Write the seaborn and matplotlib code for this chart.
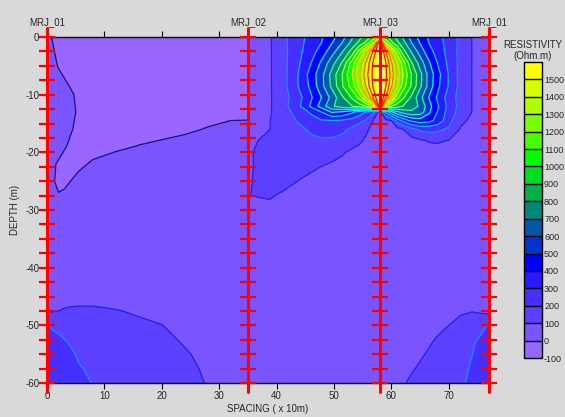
import numpy as np
import matplotlib
matplotlib.use("Agg")
import matplotlib.pyplot as plt
import matplotlib.transforms as mtransforms
from matplotlib.colors import ListedColormap
import seaborn as sns

sns.set_theme(style="ticks")
plt.rcParams["font.family"] = ["Liberation Sans", "DejaVu Sans"]
plt.rcParams["axes.unicode_minus"] = False

# boreholes along the section
borehole_names = ["MRJ_01", "MRJ_02", "MRJ_03", "MRJ_01"]
borehole_x = [0, 35, 58, 77]
electrode_depth = np.arange(0, 60.1, 2.5)

# resistivity classes (Ohm.m)
levels = np.arange(-100, 1501, 100)
fill_colors = ["#9966ff", "#7a55ff", "#5c40ff", "#4530ff", "#2a1aff", "#0000ff",
               "#0033cc", "#0058a8", "#00897a", "#00b048", "#00dd22", "#00ff00",
               "#44ff00", "#77ff00", "#aaff00", "#d8ff00"]
over_color = "#ffff00"
line_levels = np.arange(0, 1701, 100)
line_colors = ["#15157a", "#2222dd", "#1e8fff", "#00bfff", "#00dfff", "#00ffff",
               "#00ffd0", "#30ffa0", "#70ff70", "#a0ff40", "#d0ff20", "#ffff00",
               "#ffd200", "#ffa000", "#ff6400", "#ff2000", "#ff0000", "#ffffff"]

# panel MRJ_01 - MRJ_02
p1_x = [0, 1, 2, 3, 4, 5.5, 8, 12, 16, 20, 24, 28, 32, 35]
p1_depth = [0, 5, 10, 13, 16, 19, 22, 25, 27.5, 30, 40, 45, 47.5, 50, 52.5, 55, 57.5, 60]
p1_rho = [
    [20, -5, -30, -50, -50, -50, -50, -50, -50, -50, -50, -50, -50, -50],
    [45, 20, -5, -30, -50, -50, -50, -50, -50, -50, -50, -50, -50, -50],
    [50, 50, 50, 42, 17, -20, -50, -50, -50, -50, -50, -50, -50, -50],
    [50, 50, 50, 50, 25, -12, -50, -50, -50, -50, -50, -50, -37, -35],
    [50, 50, 50, 38, 12, -25, -50, -50, -50, -45, -22, 8, 38, 40],
    [50, 50, 35, 10, -15, -50, -50, -20, 5, 30, 50, 50, 50, 50],
    [45, 14, -11, -36, -50, -27, 17, 50, 50, 50, 50, 50, 50, 50],
    [32, 8, -17, -27, -2, 35, 50, 50, 50, 50, 50, 50, 50, 50],
    [45, 25, 5, 22, 37, 50, 50, 50, 50, 50, 50, 50, 50, 50],
    [50, 50, 50, 50, 50, 50, 50, 50, 50, 50, 50, 50, 50, 50],
    [55, 55, 55, 55, 55, 55, 55, 53, 52, 51, 50, 50, 50, 50],
    [70, 72, 75, 78, 80, 80, 80, 75, 70, 65, 60, 55, 52, 50],
    [90, 95, 100, 105, 108, 110, 110, 103, 92, 82, 70, 62, 55, 52],
    [210, 185, 170, 155, 145, 135, 130, 120, 112, 101, 82, 70, 60, 55],
    [240, 230, 220, 203, 185, 160, 148, 135, 125, 115, 93, 77, 65, 60],
    [260, 255, 245, 235, 222, 185, 165, 148, 137, 125, 106, 84, 70, 63],
    [275, 270, 262, 255, 245, 210, 180, 160, 147, 135, 116, 90, 73, 66],
    [290, 285, 278, 270, 262, 240, 195, 170, 155, 142, 125, 96, 76, 68],
]

# panel MRJ_02 - MRJ_03
p2_x = [35, 38.8, 41.2, 43.6, 46, 47.8, 49.6, 51.4, 53.2, 54.4, 55.6, 56.8, 58]
p2_depth = [0, 1, 2.5, 4.5, 6.5, 8.5, 10.5, 12, 13, 14.5, 16, 18, 20, 22.5, 25, 27.5, 30, 32.5, 40, 60]
p2_rho = [
    [60, 90, 177, 258, 334, 386, 465, 560, 692, 767, 850, 935, 1000],
    [60, 90, 177, 261, 342, 400, 494, 600, 736, 827, 924, 1095, 1750],
    [60, 90, 173, 265, 359, 443, 554, 690, 844, 1041, 1252, 1511, 1750],
    [60, 90, 171, 275, 400, 517, 656, 810, 1055, 1238, 1417, 1610, 1750],
    [60, 90, 169, 292, 442, 567, 733, 900, 1100, 1283, 1460, 1625, 1750],
    [60, 90, 169, 292, 425, 567, 722, 889, 1055, 1238, 1417, 1610, 1750],
    [60, 90, 163, 253, 387, 500, 630, 780, 920, 1033, 1244, 1500, 1750],
    [60, 90, 167, 267, 417, 542, 680, 760, 800, 850, 900, 1000, 1700],
    [60, 92, 150, 240, 314, 400, 510, 490, 420, 359, 289, 222, 50],
    [60, 98, 150, 205, 265, 290, 295, 290, 255, 225, 190, 100, 50],
    [60, 99, 140, 175, 215, 235, 240, 222, 180, 150, 115, 75, 50],
    [75, 130, 150, 165, 180, 188, 185, 170, 140, 115, 85, 65, 50],
    [92, 125, 140, 148, 150, 145, 130, 110, 80, 65, 55, 50, 50],
    [94, 118, 125, 122, 110, 99, 85, 72, 60, 55, 52, 50, 50],
    [97, 112, 110, 100, 85, 75, 67, 60, 55, 52, 50, 50, 50],
    [99.5, 103, 95, 85, 75, 68, 62, 57, 53, 51, 50, 50, 50],
    [97, 92, 85, 77, 70, 64, 59, 55, 52, 51, 50, 50, 50],
    [85, 80, 74, 68, 62, 58, 55, 53, 51, 50, 50, 50, 50],
    [55, 55, 54, 53, 52, 51, 50, 50, 50, 50, 50, 50, 50],
    [50, 50, 50, 50, 50, 50, 50, 50, 50, 50, 50, 50, 50],
]

# panel MRJ_03 - MRJ_01
p3_x = [58, 59, 60, 61, 62, 63.5, 65, 66.5, 68, 70, 72, 74, 77]
p3_depth = [0, 1, 2.5, 4.5, 6.5, 8.5, 10.5, 12, 13, 14.5, 16, 18, 20, 25, 40, 46, 48, 50, 53, 56, 60]
p3_rho = [
    [1000, 935, 850, 767, 692, 560, 465, 386, 334, 258, 177, 100, 60],
    [1750, 1095, 924, 827, 736, 600, 494, 400, 342, 261, 177, 100, 60],
    [1750, 1511, 1252, 1041, 844, 690, 554, 443, 359, 265, 173, 100, 60],
    [1750, 1610, 1417, 1238, 1055, 810, 656, 517, 400, 275, 171, 100, 60],
    [1750, 1625, 1460, 1283, 1100, 900, 733, 567, 442, 292, 169, 100, 60],
    [1750, 1610, 1417, 1238, 1055, 889, 722, 567, 425, 292, 169, 100, 60],
    [1750, 1500, 1244, 1033, 920, 780, 630, 500, 387, 253, 163, 100, 60],
    [1700, 1000, 900, 850, 800, 760, 680, 542, 417, 267, 167, 100, 60],
    [50, 320, 480, 580, 640, 680, 660, 520, 400, 255, 163, 100, 60],
    [50, 70, 98, 233, 325, 420, 450, 430, 370, 235, 115, 88, 55],
    [50, 50, 55, 70, 98, 170, 220, 235, 225, 185, 95, 82, 55],
    [50, 50, 50, 52, 55, 65, 85, 105, 112, 95, 75, 65, 55],
    [50, 50, 50, 50, 50, 52, 55, 60, 62, 60, 56, 54, 52],
    [50, 50, 50, 50, 50, 50, 50, 50, 50, 50, 50, 50, 50],
    [50, 50, 50, 50, 50, 50, 50, 50, 50, 50, 50, 50, 50],
    [50, 50, 50, 50, 50, 50, 50, 50, 50, 55, 65, 75, 80],
    [50, 50, 50, 50, 52, 55, 58, 62, 66, 70, 95, 105, 98],
    [52, 53, 54, 55, 56, 57, 59, 60, 75, 100, 130, 160, 205],
    [55, 56, 57, 58, 59, 60, 75, 90, 115, 145, 170, 190, 240],
    [57, 58, 60, 63, 70, 85, 98, 120, 140, 160, 180, 202, 255],
    [60, 70, 78, 88, 95, 110, 125, 140, 155, 170, 188, 215, 270],
]

panels = [(p1_x, p1_depth, p1_rho), (p2_x, p2_depth, p2_rho), (p3_x, p3_depth, p3_rho)]

fig = plt.figure(figsize=(5.65, 4.17), dpi=100, facecolor="#d9d9d9")
ax = fig.add_axes([0.0832, 0.0815, 0.7823, 0.8297])

cmap = ListedColormap(fill_colors)
cmap.set_over(over_color)

for px, pdep, prho in panels:
    X = np.array(px, dtype=float)
    Y = -np.array(pdep, dtype=float)
    Z = np.array(prho, dtype=float)
    cf = ax.contourf(X, Y, Z, levels=levels, cmap=cmap, extend="max")
    ax.contour(X, Y, Z, levels=line_levels, colors=line_colors, linewidths=0.9)

ax.set_xlim(0, 77)
ax.set_ylim(-60, 0)
ax.set_xticks(range(0, 71, 10))
ax.set_yticks(range(-60, 1, 10))
ax.tick_params(axis="x", top=True, bottom=True, direction="out", length=4,
               width=0.8, labelsize=7, pad=2, color="black")
ax.tick_params(axis="y", left=True, direction="out", length=4, width=0.8,
               labelsize=7, pad=1.5, color="black")
for s in ax.spines.values():
    s.set_color("black")
    s.set_linewidth(1)

# boreholes with electrodes
trans = mtransforms.blended_transform_factory(ax.transData, ax.transAxes)
for name, bx in zip(borehole_names, borehole_x):
    ax.axvline(bx, ymin=-0.025, ymax=1.025, color="red", lw=2.2, clip_on=False, zorder=6)
    ax.plot(np.full(len(electrode_depth), bx), -electrode_depth, ls="none", marker="_",
            ms=11, mew=1.6, color="red", clip_on=False, zorder=7)
    ax.text(bx, 1.043, name, transform=trans, ha="center", va="center", fontsize=7)

fig.text(268 / 565, 1 - 409 / 417, "SPACING ( x 10m)", ha="center", va="center", fontsize=7)
fig.text(15 / 565, 1 - 210 / 417, "DEPTH (m)", ha="center", va="center", rotation=90, fontsize=7)

# legend bar
cax = fig.add_axes([524 / 565, 1 - 358 / 417, 18 / 565, 296 / 417])
cbar = fig.colorbar(cf, cax=cax, extend="max", extendrect=True, extendfrac=1 / 16,
                    drawedges=True, ticks=levels)
cbar.outline.set_edgecolor("black")
cbar.outline.set_linewidth(1)
cbar.dividers.set_color("black")
cbar.dividers.set_linewidth(1)
cax.tick_params(length=0, labelsize=6.5, pad=1.5)
cax.set_yticklabels([str(v) for v in levels])
fig.text(533 / 565, 1 - 45 / 417, "RESISTIVITY", ha="center", va="center", fontsize=7)
fig.text(533 / 565, 1 - 56 / 417, "(Ohm.m)", ha="center", va="center", fontsize=7)

fig.savefig("out.png", dpi=100, facecolor=fig.get_facecolor())
